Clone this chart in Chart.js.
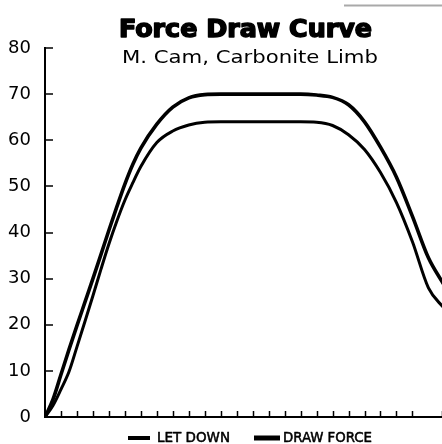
<!DOCTYPE html>
<html>
<head>
<meta charset="utf-8">
<script src="https://cdn.jsdelivr.net/npm/chart.js@4.4.1/dist/chart.umd.min.js"></script>
<style>
  html, body { margin: 0; padding: 0; background: #fff; }
  #wrap { width: 442px; height: 444px; position: relative; }
</style>
</head>
<body>
<div id="wrap"><canvas id="chart"></canvas></div>
<script>
// draw length positions (one unit per x tick) and force readings in lbs
const drawPos = [0, 0.5, 1, 1.5, 2, 2.5, 3, 3.5, 4, 4.5, 5, 5.5, 6, 7, 8, 9, 10, 11, 12, 13, 14, 15, 16, 17, 18, 19, 20, 21, 22, 23, 24, 25]
const drawForce = [0, 3.8, 9.2, 14.6, 19.8, 24.9, 30, 35.2, 40.5, 45.6, 50.5, 54.8, 58.3, 63.5, 67.2, 69.2, 69.9, 70, 70, 70, 70, 70, 70, 69.8, 69.3, 67.7, 64, 58.5, 52, 43.5, 34.5, 28.5]
const letDown = [0, 2.5, 6, 9.8, 15.2, 20.7, 26.3, 32, 37.5, 42.5, 47, 50.8, 54.3, 59.5, 62, 63.3, 63.9, 64, 64, 64, 64, 64, 64, 63.9, 63.2, 61.2, 58, 53, 46.5, 38, 28, 23.5]
const yTickValues = [0, 10, 20, 30, 40, 50, 60, 70, 80]

const titleText = 'Force Draw Curve'
const subtitleText = 'M. Cam, Carbonite Limb'

const toPoints = (ys) => drawPos.map((x, i) => ({ x: x, y: ys[i] }))

// fit a text run to a target width by squeezing/stretching it horizontally
function fitText(ctx, text, x, y, width, stroke) {
  const w = ctx.measureText(text).width
  const s = width / w
  ctx.save()
  ctx.translate(x, y)
  ctx.scale(s, 1)
  ctx.fillText(text, 0, 0)
  if (stroke) {
    ctx.lineWidth = stroke
    ctx.lineJoin = 'round'
    ctx.strokeStyle = ctx.fillStyle
    ctx.strokeText(text, 0, 0)
  }
  ctx.restore()
}

// inward tick marks, title block and the legend row
const decorPlugin = {
  id: 'decor',
  afterDraw(chart) {
    const ctx = chart.ctx
    const xs = chart.scales.x
    const ys = chart.scales.y
    const area = chart.chartArea

    ctx.save()
    ctx.strokeStyle = '#000'
    ctx.lineWidth = 1.5
    xs.ticks.forEach(t => {
      if (t.value <= 0) return
      const px = Math.round(xs.getPixelForValue(t.value)) + 0.5
      ctx.beginPath()
      ctx.moveTo(px, area.bottom)
      ctx.lineTo(px, area.bottom - 6)
      ctx.stroke()
    })
    ys.ticks.forEach(t => {
      if (t.value <= 0) return
      const py = Math.round(ys.getPixelForValue(t.value))
      ctx.beginPath()
      ctx.moveTo(area.left, py)
      ctx.lineTo(area.left + 8, py)
      ctx.stroke()
    })

    // faint rule at the very top right
    ctx.strokeStyle = '#a9a9a9'
    ctx.lineWidth = 2
    ctx.beginPath()
    ctx.moveTo(344, 5.5)
    ctx.lineTo(442, 5.5)
    ctx.stroke()

    // title + subtitle
    ctx.fillStyle = '#000'
    ctx.textBaseline = 'alphabetic'
    ctx.textAlign = 'left'
    ctx.font = 'bold 25px "DejaVu Sans Condensed", "DejaVu Sans", sans-serif'
    fitText(ctx, titleText, 119, 37, 253, 1.4)
    ctx.font = '17px "DejaVu Sans", sans-serif'
    fitText(ctx, subtitleText, 122, 63, 256)

    // legend
    const legendY = 438
    const spots = [
      { box: 128, boxW: 22, boxH: 4, text: 157, textW: 73 },
      { box: 254, boxW: 26, boxH: 5, text: 283, textW: 89 }
    ]
    ctx.font = '14px "DejaVu Sans Condensed", "DejaVu Sans", sans-serif'
    ctx.textBaseline = 'middle'
    chart.data.datasets.forEach((ds, i) => {
      const s = spots[i]
      ctx.fillStyle = ds.borderColor
      ctx.fillRect(s.box, legendY - s.boxH / 2, s.boxW, s.boxH)
      fitText(ctx, ds.label, s.text, legendY + 0.5, s.textW, 0.5)
    })
    ctx.restore()
  }
}

new Chart(document.getElementById('chart'), {
  type: 'line',
  data: {
    datasets: [
      {
        label: 'LET DOWN',
        data: toPoints(letDown),
        borderColor: '#000',
        backgroundColor: '#000',
        borderWidth: 3,
        pointRadius: 0,
        cubicInterpolationMode: 'monotone',
        fill: false
      },
      {
        label: 'DRAW FORCE',
        data: toPoints(drawForce),
        borderColor: '#000',
        backgroundColor: '#000',
        borderWidth: 3.6,
        pointRadius: 0,
        cubicInterpolationMode: 'monotone',
        fill: false
      }
    ]
  },
  options: {
    responsive: true,
    maintainAspectRatio: false,
    animation: false,
    layout: { padding: { top: 48, bottom: 27, left: 0, right: 0 } },
    plugins: {
      legend: { display: false },
      title: { display: false },
      tooltip: { enabled: false }
    },
    scales: {
      x: {
        type: 'linear',
        min: 0,
        max: 24.85,
        grid: { display: false },
        border: { display: true, color: '#000', width: 2 },
        ticks: { display: false, stepSize: 1 },
        afterFit: (scale) => { scale.height = 0 }
      },
      y: {
        min: 0,
        max: 80,
        grid: { display: false },
        border: { display: true, color: '#000', width: 2 },
        afterBuildTicks: (scale) => { scale.ticks = yTickValues.map(v => ({ value: v })) },
        ticks: {
          color: '#000',
          padding: 6,
          font: { family: '"DejaVu Sans", sans-serif', size: 18 }
        },
        afterFit: (scale) => { scale.width = 45 }
      }
    }
  },
  plugins: [decorPlugin]
})
</script>
</body>
</html>
